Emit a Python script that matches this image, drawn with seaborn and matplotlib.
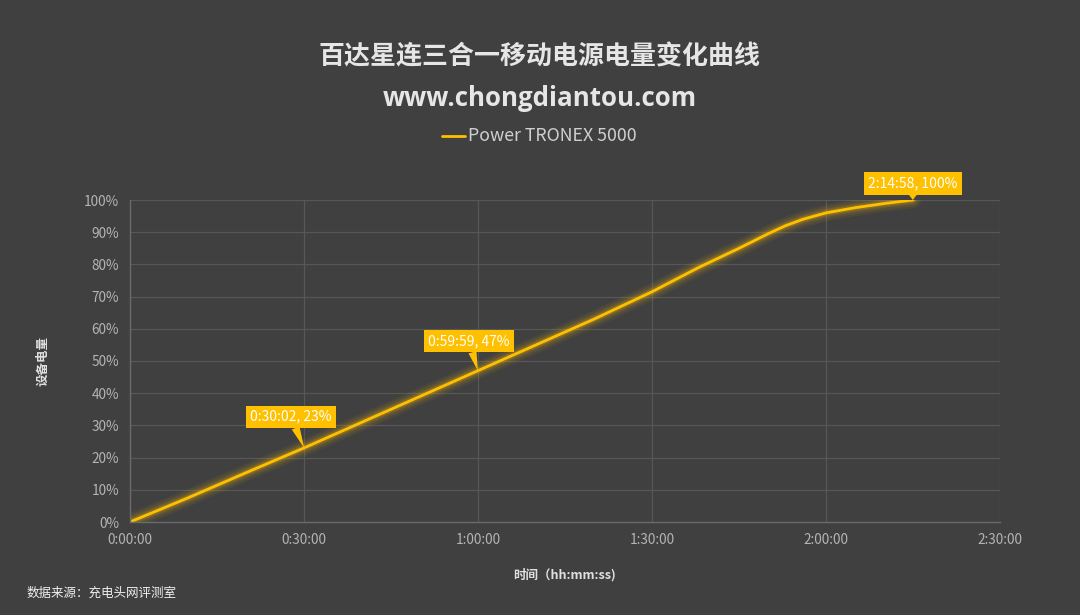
import numpy as np
import pandas as pd
import matplotlib
matplotlib.use("Agg")
import matplotlib.pyplot as plt
import seaborn as sns

# charge time (minutes) and battery level (%)
minutes = [0, 10, 20, 30, 40, 50, 60, 70, 80, 90, 98, 105, 110, 113, 116, 120, 125, 130, 135]
level = [0, 7.5, 15.3, 23, 31, 39, 47, 55, 63, 71.5, 79, 85, 89.5, 92, 94, 96, 97.6, 98.9, 100]

# labelled points: (minute, level, text)
callouts = [
    (30.03, 23, "0:30:02, 23%"),
    (59.98, 47, "0:59:59, 47%"),
    (134.97, 100, "2:14:58, 100%"),
]

x_ticks = [0, 30, 60, 90, 120, 150]
x_tick_labels = ["0:00:00", "0:30:00", "1:00:00", "1:30:00", "2:00:00", "2:30:00"]
y_ticks = list(range(0, 101, 10))

BG = "#404040"
GOLD = "#FFC000"
GRID = "#575757"
TICK = "#B4B4B4"

sns.set_theme(style="dark")
plt.rcParams["font.family"] = ["Noto Sans CJK SC", "DejaVu Sans"]

df = pd.DataFrame({"minutes": minutes, "level": level})

fig = plt.figure(figsize=(10.8, 6.15), dpi=100, facecolor=BG)
ax = fig.add_axes([130 / 1080, 1 - 522 / 615, 870 / 1080, 322 / 615])
ax.set_facecolor(BG)

# soft glow under the line
for lw, a in [(12, 0.06), (9, 0.08), (6, 0.12), (4, 0.18)]:
    sns.lineplot(data=df, x="minutes", y="level", ax=ax, color=GOLD,
                 linewidth=lw, alpha=a, legend=False, solid_capstyle="round")
sns.lineplot(data=df, x="minutes", y="level", ax=ax, color=GOLD, linewidth=2.0, legend=False)

ax.set_xlim(0, 150)
ax.set_ylim(0, 100)
ax.set_xticks(x_ticks)
ax.set_xticklabels(x_tick_labels)
ax.set_yticks(y_ticks)
ax.set_yticklabels([f"{v}%" for v in y_ticks])
ax.tick_params(colors=TICK, labelsize=9.8, length=0, pad=8)
ax.grid(True, color=GRID, linewidth=0.9)
for side in ["top", "right"]:
    ax.spines[side].set_visible(False)
for side in ["left", "bottom"]:
    ax.spines[side].set_visible(True)
    ax.spines[side].set_color("#6a6a6a")
    ax.spines[side].set_linewidth(1.0)

ax.set_xlabel("时间（hh:mm:ss)", color="#e0e0e0", fontsize=9, fontweight="bold", labelpad=15)
ax.set_ylabel("设备电量", color="#e0e0e0", fontsize=9, fontweight="bold", labelpad=25)

# callout boxes
offsets = [(-2.3, 7.5), (-1.5, 7.0), (0.0, 3.0)]
for (mx, lv, txt), (dx, dy) in zip(callouts, offsets):
    ax.annotate(txt, xy=(mx, lv), xytext=(mx + dx, lv + dy), ha="center", va="bottom",
                color="white", fontsize=10, annotation_clip=False,
                bbox=dict(boxstyle="square,pad=0.3", fc=GOLD, ec="none"),
                arrowprops=dict(arrowstyle="wedge,tail_width=0.6,shrink_factor=0.5",
                                fc=GOLD, ec="none", shrinkA=0, shrinkB=0))

fig.text(0.5, 1 - 57 / 615, "百达星连三合一移动电源电量变化曲线", ha="center", va="center",
         color="#e6e6e6", fontsize=18.7, fontweight="bold")
fig.text(0.5, 1 - 99 / 615, "www.chongdiantou.com", ha="center", va="center",
         color="#e6e6e6", fontsize=18.6, fontweight="bold", family=["Open Sans", "DejaVu Sans"])
fig.lines.append(plt.Line2D([442 / 1080, 465 / 1080], [1 - 136 / 615] * 2,
                            transform=fig.transFigure, color=GOLD, linewidth=2))
fig.text(468 / 1080, 1 - 136 / 615, "Power TRONEX 5000", ha="left", va="center",
         color="#cfcfcf", fontsize=12.8)
fig.text(27 / 1080, 1 - 593 / 615, "数据来源：充电头网评测室", ha="left", va="center",
         color="#f0f0f0", fontsize=9)

fig.savefig("out.png", dpi=100, facecolor=BG)
